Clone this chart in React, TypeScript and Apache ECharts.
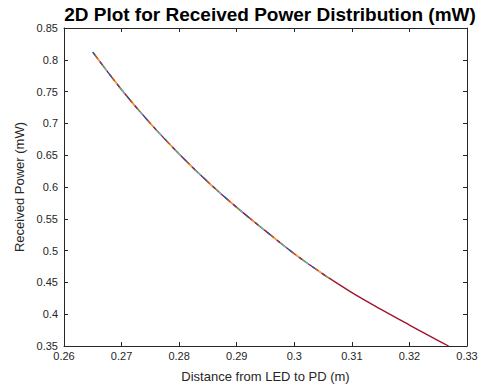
import React, { useEffect, useRef } from "react";
import * as echarts from "echarts";

const distance = [0.265, 0.27, 0.275, 0.28, 0.285, 0.29, 0.295, 0.3, 0.305, 0.306, 0.31, 0.315, 0.32, 0.325, 0.3268];
const power = [0.812, 0.753, 0.7, 0.652, 0.608, 0.568, 0.531, 0.495, 0.463, 0.457, 0.434, 0.408, 0.383, 0.3585, 0.35];
const multiColorEnd = 0.306;
const dashColors = ["#0072BD", "#D95319", "#EDB120", "#7E2F8E", "#77AC30", "#4DBEEE"];
const baseColor = "#A2142F";

const xTicks = { min: 0.26, max: 0.33, interval: 0.01 };
const yTicks = { min: 0.35, max: 0.85, interval: 0.05 };

export default function App() {
  const ref = useRef<HTMLDivElement>(null);
  useEffect(() => {
    const chart = echarts.init(ref.current!, null, { renderer: "svg" });
    const all = distance.map((d, i) => [d, power[i]]);
    const part = all.filter((p) => p[0] <= multiColorEnd + 1e-9);
    const axisColor = "#262626";
    const font = "Arial, 'Liberation Sans', Helvetica, sans-serif";
    const fmt = (v: number) => String(parseFloat(v.toFixed(2)));
    const series: any[] = [
      {
        type: "line",
        data: all,
        smooth: 0.4,
        showSymbol: false,
        lineStyle: { color: baseColor, width: 1.4 },
      },
    ];
    dashColors.forEach((c, i) => {
      series.push({
        type: "line",
        data: part,
        smooth: 0.4,
        showSymbol: false,
        lineStyle: { color: c, width: 1.4, type: [4, 24], dashOffset: -i * 4 },
      });
    });
    chart.setOption({
      animation: false,
      textStyle: { fontFamily: font },
      title: {
        text: "2D Plot for Received Power Distribution (mW)",
        left: 265,
        textAlign: "center",
        top: 0,
        textStyle: { fontSize: 19, fontWeight: "bold", color: "#000", fontFamily: font },
      },
      grid: { left: 64, right: 20, top: 28, bottom: 43, containLabel: false },
      xAxis: [
        {
          type: "value",
          position: "bottom",
          ...xTicks,
          name: "Distance from LED to PD (m)",
          nameLocation: "middle",
          nameGap: 24,
          nameTextStyle: { fontSize: 13, color: axisColor, fontFamily: font },
          axisLine: { show: true, lineStyle: { color: axisColor, width: 1 } },
          axisTick: { show: true, inside: true, length: 4, lineStyle: { color: axisColor } },
          axisLabel: { fontSize: 11, color: axisColor, margin: 4, formatter: fmt, fontFamily: font },
          splitLine: { show: false },
        },
        {
          type: "value",
          position: "top",
          ...xTicks,
          axisLine: { show: true, lineStyle: { color: axisColor, width: 1 } },
          axisTick: { show: true, inside: true, length: 4, lineStyle: { color: axisColor } },
          axisLabel: { show: false },
          splitLine: { show: false },
        },
      ],
      yAxis: [
        {
          type: "value",
          position: "left",
          ...yTicks,
          name: "Received Power (mW)",
          nameLocation: "middle",
          nameGap: 33,
          nameTextStyle: { fontSize: 13, color: axisColor, fontFamily: font },
          axisLine: { show: true, lineStyle: { color: axisColor, width: 1 } },
          axisTick: { show: true, inside: true, length: 4, lineStyle: { color: axisColor } },
          axisLabel: { fontSize: 11, color: axisColor, margin: 6, formatter: fmt, fontFamily: font },
          splitLine: { show: false },
        },
        {
          type: "value",
          position: "right",
          ...yTicks,
          axisLine: { show: true, lineStyle: { color: axisColor, width: 1 } },
          axisTick: { show: true, inside: true, length: 4, lineStyle: { color: axisColor } },
          axisLabel: { show: false },
          splitLine: { show: false },
        },
      ],
      series,
    });
    return () => chart.dispose();
  }, []);
  return <div ref={ref} style={{ width: 487, height: 389, position: "absolute", left: 0, top: 0 }} />;
}
